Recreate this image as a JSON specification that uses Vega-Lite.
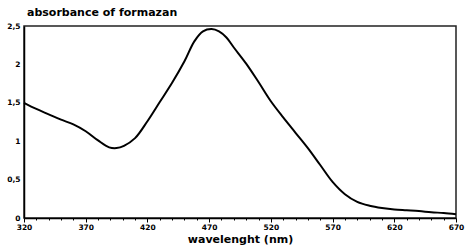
{
  "$schema": "https://vega.github.io/schema/vega-lite/v6.json",
  "autosize": {"type": "none"},
  "width": 432,
  "height": 192,
  "padding": {"left": 24, "top": 26, "right": 9, "bottom": 30},
  "background": "white",
  "title": {
    "text": "absorbance of formazan",
    "anchor": "start",
    "frame": "group",
    "font": "DejaVu Sans",
    "fontSize": 11,
    "fontWeight": "bold",
    "color": "black",
    "dx": 3,
    "offset": 4
  },
  "config": {
    "view": {"stroke": "#222", "strokeWidth": 1.5},
    "axis": {
      "grid": false,
      "domainColor": "black",
      "domainWidth": 1.5,
      "tickColor": "black",
      "labelFont": "DejaVu Sans",
      "labelFontWeight": "bold",
      "labelFontSize": 7.5,
      "labelColor": "black",
      "titleFont": "DejaVu Sans",
      "titleFontWeight": "bold",
      "titleFontSize": 11,
      "titleColor": "black"
    }
  },
  "data": {
    "values": [
      {"wavelength": 320, "absorbance": 1.50},
      {"wavelength": 330, "absorbance": 1.42},
      {"wavelength": 340, "absorbance": 1.35},
      {"wavelength": 350, "absorbance": 1.28},
      {"wavelength": 360, "absorbance": 1.22},
      {"wavelength": 370, "absorbance": 1.13},
      {"wavelength": 380, "absorbance": 1.01},
      {"wavelength": 389, "absorbance": 0.92},
      {"wavelength": 395, "absorbance": 0.91},
      {"wavelength": 401, "absorbance": 0.94},
      {"wavelength": 410, "absorbance": 1.04},
      {"wavelength": 420, "absorbance": 1.26},
      {"wavelength": 430, "absorbance": 1.51},
      {"wavelength": 440, "absorbance": 1.76},
      {"wavelength": 450, "absorbance": 2.04},
      {"wavelength": 458, "absorbance": 2.30},
      {"wavelength": 465, "absorbance": 2.43},
      {"wavelength": 472, "absorbance": 2.46},
      {"wavelength": 478, "absorbance": 2.43},
      {"wavelength": 484, "absorbance": 2.35},
      {"wavelength": 490, "absorbance": 2.22},
      {"wavelength": 500, "absorbance": 2.01},
      {"wavelength": 510, "absorbance": 1.77},
      {"wavelength": 520, "absorbance": 1.52},
      {"wavelength": 530, "absorbance": 1.31},
      {"wavelength": 540, "absorbance": 1.11},
      {"wavelength": 550, "absorbance": 0.91},
      {"wavelength": 560, "absorbance": 0.69},
      {"wavelength": 570, "absorbance": 0.47},
      {"wavelength": 580, "absorbance": 0.31},
      {"wavelength": 590, "absorbance": 0.21},
      {"wavelength": 600, "absorbance": 0.16},
      {"wavelength": 610, "absorbance": 0.13},
      {"wavelength": 620, "absorbance": 0.11},
      {"wavelength": 630, "absorbance": 0.10},
      {"wavelength": 640, "absorbance": 0.09},
      {"wavelength": 650, "absorbance": 0.075},
      {"wavelength": 660, "absorbance": 0.065},
      {"wavelength": 670, "absorbance": 0.05}
    ]
  },
  "mark": {"type": "line", "color": "black", "strokeWidth": 2, "interpolate": "catmull-rom"},
  "encoding": {
    "x": {
      "field": "wavelength",
      "type": "quantitative",
      "scale": {"domain": [320, 670], "nice": false, "zero": false},
      "axis": {
        "title": "wavelenght (nm)",
        "titlePadding": 3,
        "values": [320,330,340,350,360,370,380,390,400,410,420,430,440,450,460,470,480,490,500,510,520,530,540,550,560,570,580,590,600,610,620,630,640,650,660,670],
        "labelExpr": "datum.value % 50 == 20 ? datum.value : ''",
        "tickSize": {"condition": {"test": "datum.value % 50 == 20", "value": 4}, "value": 2},
        "labelPadding": 1,
        "labelFlush": false
      }
    },
    "y": {
      "field": "absorbance",
      "type": "quantitative",
      "scale": {"domain": [0, 2.5], "nice": false},
      "axis": {
        "title": null,
        "values": [0, 0.5, 1, 1.5, 2, 2.5],
        "labelExpr": "replace(format(datum.value, '~g'), '.', ',')",
        "tickSize": 0,
        "labelPadding": 4
      }
    }
  }
}
